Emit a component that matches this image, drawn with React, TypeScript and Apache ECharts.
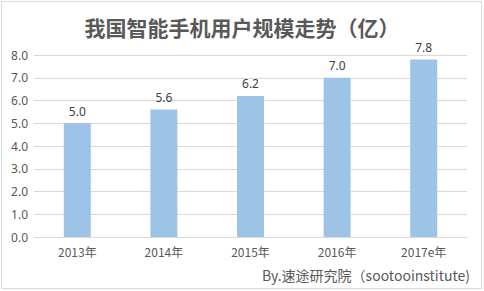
import React, { useEffect, useRef } from "react";
import * as echarts from "echarts";

const categories = ["2013年", "2014年", "2015年", "2016年", "2017e年"];
const values = [5.0, 5.6, 6.2, 7.0, 7.8];
const titleText = "我国智能手机用户规模走势（亿）";
const sourceText = "By.速途研究院（sootooinstitute)";

export default function App() {
  const ref = useRef<HTMLDivElement>(null);
  useEffect(() => {
    const chart = echarts.init(ref.current!, null, { renderer: "svg" });
    chart.setOption({
      animation: false,
      backgroundColor: "#ffffff",
      title: {
        text: titleText,
        left: "center",
        top: 11,
        itemGap: 0,
        textStyle: {
          fontFamily: "Noto Sans CJK SC",
          fontSize: 21,
          fontWeight: "bold",
          color: "#595959",
        },
      },
      graphic: [
        {
          type: "rect",
          shape: { x: 1.5, y: 1.5, width: 480, height: 287 },
          style: { fill: "none", stroke: "#d9d9d9", lineWidth: 1 },
          silent: true,
        },
        {
          type: "text",
          right: 14,
          top: 268,
          style: {
            text: sourceText,
            fontFamily: "Noto Sans CJK SC",
            fontSize: 14,
            fill: "#595959",
          },
        },
      ],
      grid: { left: 34, right: 17, top: 55, bottom: 54, containLabel: false },
      xAxis: {
        type: "category",
        data: categories,
        axisLine: { lineStyle: { color: "#d9d9d9" } },
        axisTick: { show: false },
        axisLabel: {
          color: "#595959",
          fontSize: 12,
          fontFamily: "Noto Sans CJK SC",
          margin: 8,
        },
      },
      yAxis: {
        type: "value",
        min: 0,
        max: 8,
        interval: 1,
        axisLine: { show: false },
        axisTick: { show: false },
        splitLine: { lineStyle: { color: "#d9d9d9" } },
        axisLabel: {
          color: "#595959",
          fontSize: 12,
          fontFamily: "Noto Sans",
          margin: 6,
          formatter: (v: number) => v.toFixed(1),
        },
      },
      series: [
        {
          type: "bar",
          data: values,
          barWidth: 27,
          itemStyle: { color: "#9dc3e6" },
          label: {
            show: true,
            position: "top",
            distance: 6,
            color: "#404040",
            fontSize: 12,
            fontFamily: "Noto Sans",
            formatter: (p: any) => Number(p.value).toFixed(1),
          },
        },
      ],
    });
    return () => chart.dispose();
  }, []);
  return (
    <div
      ref={ref}
      style={{ position: "fixed", left: 0, top: 0, width: 484, height: 291 }}
    />
  );
}
